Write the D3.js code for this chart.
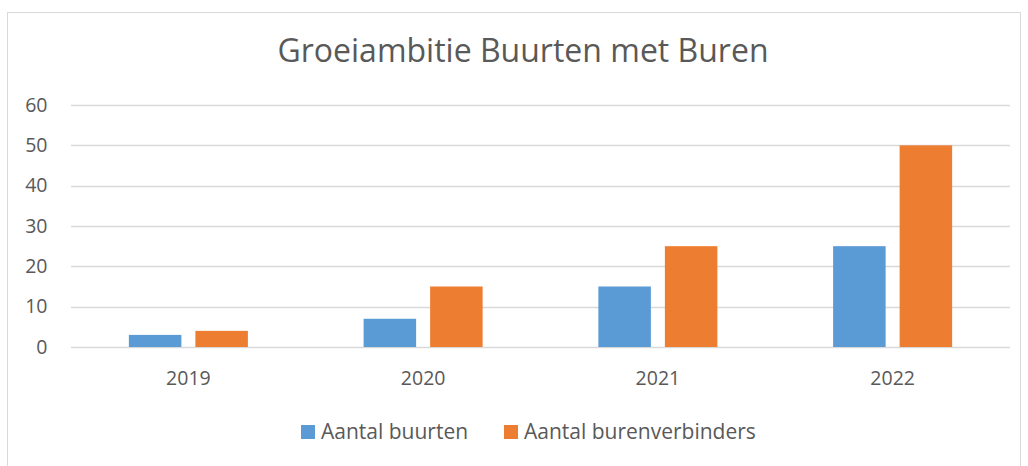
<!DOCTYPE html>
<html>
<head>
<meta charset="utf-8">
<script src="https://cdn.jsdelivr.net/npm/d3@7"></script>
<style>
  html, body { margin: 0; padding: 0; background: #fff; }
  svg { display: block; }
  text { font-family: "Open Sans", "Liberation Sans", sans-serif; fill: #595959; }
</style>
</head>
<body>
<svg id="chart" width="1028" height="466"></svg>
<script>
const title = "Groeiambitie Buurten met Buren";
const categories = ["2019", "2020", "2021", "2022"];
const seriesNames = ["Aantal buurten", "Aantal burenverbinders"];
const buurten = [3, 7, 15, 25];
const burenverbinders = [4, 15, 25, 50];
const yTicks = [0, 10, 20, 30, 40, 50, 60];
const colors = ["#5B9BD5", "#ED7D31"];

const seriesValues = [buurten, burenverbinders];
const svg = d3.select("#chart");
const margin = { left: 71, right: 1010, top: 105, bottom: 347 };
const FONT = '"Open Sans", "Liberation Sans", sans-serif';

// outer border
svg.append("rect")
  .attr("x", 7.5).attr("y", 12.5)
  .attr("width", 1013).attr("height", 470)
  .attr("fill", "none").attr("stroke", "#D9D9D9").attr("stroke-width", 1);

// title
svg.append("text")
  .attr("x", 523).attr("y", 62)
  .attr("text-anchor", "middle")
  .attr("font-size", 32)
  .text(title);

const x0 = d3.scaleBand()
  .domain(categories)
  .range([margin.left, margin.right])
  .paddingInner(0.493).paddingOuter(0.2465);

const x1 = d3.scaleBand()
  .domain(seriesNames)
  .range([0, x0.bandwidth()])
  .paddingInner(0.2105).paddingOuter(0);

const y = d3.scaleLinear()
  .domain([0, 60])
  .range([margin.bottom, margin.top]);

// gridlines
svg.append("g")
  .selectAll("line")
  .data(yTicks)
  .join("line")
  .attr("x1", margin.left).attr("x2", margin.right)
  .attr("y1", d => Math.round(y(d)) + 0.5).attr("y2", d => Math.round(y(d)) + 0.5)
  .attr("stroke", "#D9D9D9").attr("stroke-width", 1.3);

// y axis labels
const yAxis = d3.axisLeft(y).tickValues(yTicks).tickSize(0).tickPadding(0);
const gy = svg.append("g").attr("transform", `translate(${47.5},0)`).call(yAxis);
gy.select(".domain").remove();
gy.selectAll("text").attr("font-size", 19.5).attr("fill", "#595959")
  .style("font-family", FONT);

// bars
const groups = svg.append("g")
  .selectAll("g")
  .data(categories)
  .join("g")
  .attr("transform", d => `translate(${x0(d)},0)`);

groups.selectAll("rect")
  .data((c, i) => seriesNames.map((s, j) => ({ s, j, v: seriesValues[j][i] })))
  .join("rect")
  .attr("x", d => x1(d.s))
  .attr("width", x1.bandwidth())
  .attr("y", d => y(d.v))
  .attr("height", d => y(0) - y(d.v))
  .attr("fill", d => colors[d.j]);

// x axis labels
const xAxis = d3.axisBottom(x0).tickSize(0).tickPadding(0);
const gx = svg.append("g").attr("transform", `translate(0,${385})`).call(xAxis);
gx.select(".domain").remove();
gx.selectAll("text").attr("font-size", 19.5).attr("fill", "#595959")
  .attr("dy", 0)
  .style("font-family", FONT);

// legend
const legendX = [301, 504];
const lg = svg.append("g")
  .selectAll("g")
  .data(seriesNames)
  .join("g")
  .attr("transform", (d, i) => `translate(${legendX[i]},425)`);
lg.append("rect").attr("width", 14).attr("height", 14).attr("fill", (d, i) => colors[i]);
lg.append("text").attr("x", 20).attr("y", 14).attr("font-size", 21).text(d => d);
</script>
</body>
</html>
